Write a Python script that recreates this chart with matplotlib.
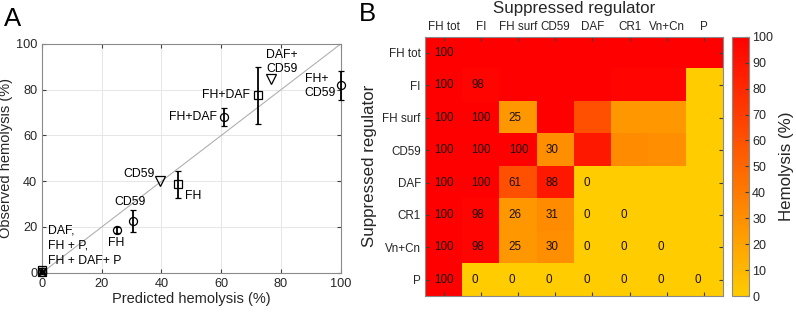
import numpy as np
import matplotlib
matplotlib.use("Agg")
import matplotlib.pyplot as plt
from matplotlib.colors import LinearSegmentedColormap

plt.rcParams['font.family'] = ['Liberation Sans', 'DejaVu Sans']

# --- panel A data ---
circ_x = [0, 25, 30.5, 61, 100]
circ_y = [0.5, 18.8, 22.8, 68.1, 81.9]
circ_lo = [0.5, 1.4, 5.0, 3.9, 6.5]
circ_hi = [0.5, 1.0, 4.7, 3.9, 6.5]

sq_x = [0, 0, 45.6, 72.4]
sq_y = [0.3, 1.3, 38.7, 77.7]
sq_lo = [0.3, 0.8, 6.1, 12.5]
sq_hi = [0.5, 0.8, 5.9, 12.2]

tri_x = [39.4, 76.5]
tri_y = [40.0, 84.5]

# --- panel B data ---
regulators = ["FH tot", "FI", "FH surf", "CD59", "DAF", "CR1", "Vn+Cn", "P"]
lower = [
    [100],
    [100, 98],
    [100, 100, 25],
    [100, 100, 100, 30],
    [100, 100, 61, 88, 0],
    [100, 98, 26, 31, 0, 0],
    [100, 98, 25, 30, 0, 0, 0],
    [100, 0, 0, 0, 0, 0, 0, 0],
]

n = len(regulators)
M = np.zeros((n, n))
for i, row in enumerate(lower):
    for j, v in enumerate(row):
        M[i, j] = v
        M[j, i] = v

txt = '#262626'
fig = plt.figure(figsize=(7.96, 3.13), dpi=100)

# ---------------- panel A ----------------
ax = fig.add_axes([0.0528, 0.1288, 0.3752, 0.7307])
ax.plot([0, 100], [0, 100], color='#b0b0b0', lw=0.8, zorder=1)
eb1 = ax.errorbar(circ_x, circ_y, yerr=[circ_lo, circ_hi], fmt='o', ms=5.8, mfc='none',
                  mec='k', mew=0.9, ecolor='k', elinewidth=1.3, capsize=2.5, capthick=1.3, zorder=3)
eb2 = ax.errorbar(sq_x, sq_y, yerr=[sq_lo, sq_hi], fmt='s', ms=5.8, mfc='none',
                  mec='k', mew=0.9, ecolor='k', elinewidth=1.3, capsize=2.5, capthick=1.3, zorder=3)
for eb in (eb1, eb2):
    for a in eb.get_children():
        a.set_clip_on(False)
ax.plot(tri_x, tri_y, 'v', ms=6.5, mfc='none', mec='k', mew=0.9, ls='none', zorder=3)

fs = 8.8
ax.text(75.1, 92, "DAF+\nCD59", ha='left', va='center', fontsize=fs, color='k', linespacing=1.25)
ax.text(87.9, 81.5, "FH+\nCD59", ha='left', va='center', fontsize=fs, color='k', linespacing=1.25)
ax.text(69.8, 77.8, "FH+DAF", ha='right', va='center', fontsize=fs, color='k')
ax.text(58.7, 68.1, "FH+DAF", ha='right', va='center', fontsize=fs, color='k')
ax.text(37.8, 43.0, "CD59", ha='right', va='center', fontsize=fs, color='k')
ax.text(47.8, 33.6, "FH", ha='left', va='center', fontsize=fs, color='k')
ax.text(29.4, 30.9, "CD59", ha='center', va='center', fontsize=fs, color='k')
ax.text(24.9, 13.0, "FH", ha='center', va='center', fontsize=fs, color='k')
# origin group label, one line each
for label, yy in [("DAF,", 18.5), ("FH + P,", 11.8), ("FH + DAF+ P", 5.3)]:
    ax.text(2.0, yy, label, ha='left', va='center', fontsize=fs, color='k')

ax.set_xlim(0, 100)
ax.set_ylim(0, 100)
ax.set_xticks(range(0, 101, 20))
ax.set_yticks(range(0, 101, 20))
ax.grid(True, color='#e6e6e6', lw=0.7)
ax.set_axisbelow(True)
ax.tick_params(direction='in', length=3, labelsize=9.2, colors='#404040', labelcolor=txt,
               top=True, right=True)
for s in ax.spines.values():
    s.set_color('#8a8a8a')
    s.set_linewidth(0.8)
ax.set_xlabel("Predicted hemolysis (%)", fontsize=10.5, color=txt, labelpad=2)
ax.set_ylabel("Observed hemolysis (%)", fontsize=10.5, color=txt, labelpad=2)

# ---------------- panel B ----------------
cmap = LinearSegmentedColormap.from_list("hemo", [(1.0, 0.8, 0.0), (1.0, 0.0, 0.0)])
hx = fig.add_axes([0.5339, 0.0543, 0.374, 0.8284])
im = hx.imshow(M, cmap=cmap, vmin=0, vmax=100, aspect='auto', interpolation='nearest')
for i, row in enumerate(lower):
    for j, v in enumerate(row):
        hx.text(j - 0.25, i, f"{v:g}", ha='left', va='center', fontsize=8.4, color='#1e1010')
hx.set_xticks(range(n))
hx.set_yticks(range(n))
hx.set_xticklabels(regulators)
hx.set_yticklabels(regulators)
hx.tick_params(direction='in', length=3, labelsize=8.4, colors='#404040', labelcolor=txt,
               top=True, bottom=True, left=True, right=True,
               labeltop=True, labelbottom=False, pad=3)
for s in hx.spines.values():
    s.set_color('#8a8a8a')
    s.set_linewidth(0.8)
hx.set_ylabel("Suppressed regulator", fontsize=12.2, color=txt, labelpad=4)
fig.text(0.7211, 0.974, "Suppressed regulator", ha='center', va='center', fontsize=12.2, color=txt)

cax = fig.add_axes([0.920, 0.0543, 0.0214, 0.8284])
cb = fig.colorbar(im, cax=cax, ticks=range(0, 101, 10))
cb.outline.set_edgecolor('#8a8a8a')
cb.outline.set_linewidth(0.8)
cax.tick_params(direction='in', length=3, labelsize=9, colors='#404040', labelcolor=txt, pad=2)
cb.set_label("Hemolysis (%)", fontsize=12.2, color=txt, labelpad=4)

fig.text(0.016, 0.939, "A", ha='center', va='center', fontsize=18.5, color='k')
fig.text(0.461, 0.955, "B", ha='center', va='center', fontsize=18.5, color='k')

fig.savefig("out.png", dpi=100)
